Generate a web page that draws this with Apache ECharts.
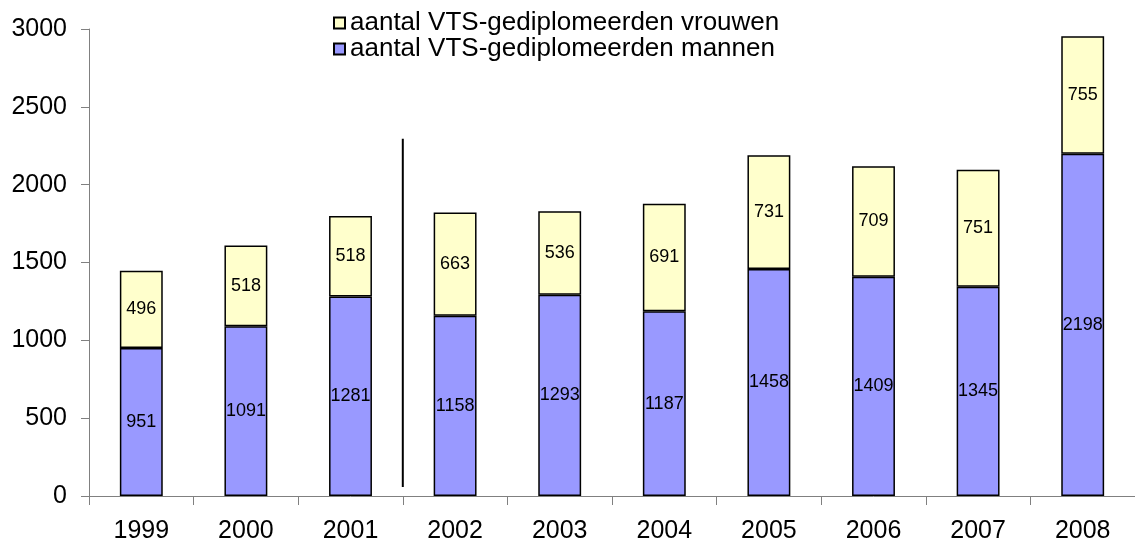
<!DOCTYPE html>
<html>
<head>
<meta charset="utf-8">
<script src="https://cdn.jsdelivr.net/npm/echarts@6/dist/echarts.min.js"></script>
<style>
  html, body { margin: 0; padding: 0; background: #fff; }
  #chart { width: 1135px; height: 544px; }
</style>
</head>
<body>
<div id="chart"></div>
<script>
// Graduates per year, split by gender
const years = ['1999', '2000', '2001', '2002', '2003', '2004', '2005', '2006', '2007', '2008'];
const mannen = [951, 1091, 1281, 1158, 1293, 1187, 1458, 1409, 1345, 2198];
const vrouwen = [496, 518, 518, 663, 536, 691, 731, 709, 751, 755];
const yTicks = [0, 500, 1000, 1500, 2000, 2500, 3000];

// Separator between 2001 and 2002 (x in category units, y in data units)
const separator = [[3, 2295], [3, 58]];

const FONT = 'Liberation Sans, Arial, sans-serif';

const chart = echarts.init(document.getElementById('chart'));

const labelStyle = {
  show: true,
  position: 'inside',
  color: '#000',
  fontFamily: FONT,
  fontSize: 18
};

chart.setOption({
  animation: false,
  backgroundColor: '#fff',
  grid: { left: 89, right: 0, top: 29, bottom: 47 },
  legend: {
    orient: 'vertical',
    left: 328,
    top: 5,
    itemWidth: 11,
    itemHeight: 11,
    itemGap: 0,
    icon: 'rect',
    textStyle: { fontFamily: FONT, fontSize: 26, lineHeight: 24, color: '#000' },
    data: ['aantal VTS-gediplomeerden vrouwen', 'aantal VTS-gediplomeerden mannen']
  },
  xAxis: [
    {
      type: 'category',
      data: years,
      axisLine: { lineStyle: { color: '#808080', width: 1 } },
      axisTick: { show: true, length: 9, lineStyle: { color: '#808080' } },
      axisLabel: { color: '#000', fontFamily: FONT, fontSize: 25, margin: 23 }
    },
    {
      type: 'value',
      min: 0,
      max: 10,
      show: false
    }
  ],
  yAxis: {
    type: 'value',
    min: yTicks[0],
    max: yTicks[yTicks.length - 1],
    interval: 500,
    axisLine: { show: true, lineStyle: { color: '#808080', width: 1 } },
    axisTick: { show: true, length: 8, lineStyle: { color: '#808080' } },
    splitLine: { show: false },
    axisLabel: {
      color: '#000',
      fontFamily: FONT,
      fontSize: 25,
      margin: 22,
      formatter: (v) => String(v)
    }
  },
  series: [
    {
      name: 'aantal VTS-gediplomeerden mannen',
      type: 'bar',
      stack: 'totaal',
      data: mannen,
      barWidth: '41%',
      itemStyle: { color: '#9999FF', borderColor: '#000', borderWidth: 1.5 },
      label: labelStyle
    },
    {
      name: 'aantal VTS-gediplomeerden vrouwen',
      type: 'bar',
      stack: 'totaal',
      data: vrouwen,
      barWidth: '41%',
      itemStyle: { color: '#FFFFCC', borderColor: '#000', borderWidth: 1.5 },
      label: labelStyle
    },
    {
      type: 'line',
      xAxisIndex: 1,
      data: separator,
      symbol: 'none',
      lineStyle: { color: '#000', width: 2 },
      silent: true,
      legendHoverLink: false
    }
  ]
});
</script>
</body>
</html>
